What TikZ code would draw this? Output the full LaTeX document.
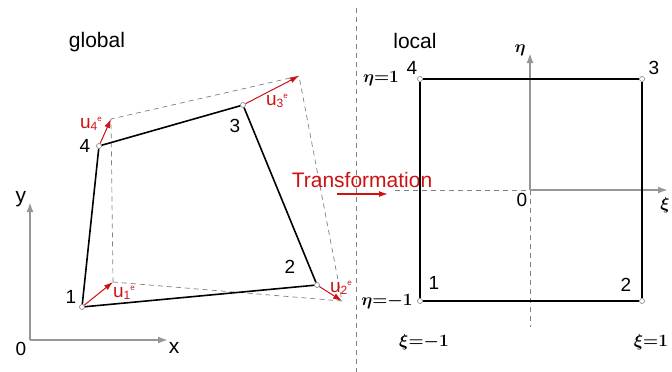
\documentclass[tikz,border=0pt]{standalone}
\usepackage{amsmath}
\usepackage{fontspec}
\setmainfont{Liberation Sans}
\usepackage{tikz}
\usetikzlibrary{arrows.meta,positioning}

\definecolor{dispred}{RGB}{204,18,18}
\definecolor{axisgray}{RGB}{150,150,150}
\newcommand{\dispu}[1]{u\raisebox{-2.5pt}{\fontsize{12}{12}\selectfont #1}\raisebox{7pt}{\fontsize{8}{8}\selectfont e}}

\begin{document}
\begin{tikzpicture}[x=1pt,y=-1pt,
  vtx/.style={circle,draw=gray,fill=white,inner sep=0pt,minimum size=5pt,line width=0.6pt},
  elem/.style={line width=1.6pt},
  axis/.style={draw=axisgray,line width=1.8pt,-{Latex[length=10pt,width=7pt]}},
  guide/.style={draw=gray,dash pattern=on 5pt off 4pt,line width=0.7pt},
  disp/.style={draw=dispred,line width=1pt,-{Latex[length=9pt,width=6pt]}},
  lbl/.style={font=\fontsize{19}{19}\selectfont,inner sep=0pt},
  txt/.style={font=\fontsize{21}{21}\selectfont,inner sep=0pt},
  ulbl/.style={text=dispred,font=\fontsize{19}{19}\selectfont,inner sep=0pt},
  nat/.style={font=\fontsize{16}{16}\selectfont\boldmath,inner sep=0pt}
]
\useasboundingbox (0,0) rectangle (672,372);

% global element
\node[txt] (glob) at (97,42) {global};
\coordinate (go) at (30,340);
\coordinate (gy) at (30,202);
\coordinate (gx) at (168,340);
\draw[axis] (go) -- (gy);
\draw[axis] (go) -- (gx);
\node[lbl] (g0) at (21,349) {0};
\node[txt] (gylab) at (21,199) {y};
\node[txt] (gxlab) at (174,348) {x};

\coordinate (t1) at (113,282);
\coordinate (t2) at (342,301);
\coordinate (t3) at (299,76);
\coordinate (t4) at (111,119);
\draw[guide] (t1) -- (t2) -- (t3) -- (t4) -- cycle;

\node[vtx] (n1) at (82,307) {};
\node[vtx] (n2) at (317,285) {};
\node[vtx] (n3) at (243,105) {};
\node[vtx] (n4) at (99,146) {};
\draw[elem] (n1) -- (n2) -- (n3) -- (n4) -- (n1);

\draw[disp] (n1) -- (t1);
\draw[disp] (n2) -- (t2);
\draw[disp] (n3) -- (t3);
\draw[disp] (n4) -- (t4);

\node[lbl] (n1lab) at (71,297) {1};
\node[lbl] (n2lab) at (290,267) {2};
\node[lbl] (n3lab) at (235,126) {3};
\node[lbl] (n4lab) at (85,146) {4};
\node[ulbl] (u1) at (124,293) {\dispu{1}};
\node[ulbl] (u2) at (341,288) {\dispu{2}};
\node[ulbl] (u3) at (277,101) {\dispu{3}};
\node[ulbl] (u4) at (91,124) {\dispu{4}};

% divider and transformation
\coordinate (divtop) at (356,8);
\coordinate (divbot) at (356,372);
\draw[guide] (divtop) -- (divbot);
\node[txt,text=dispred] (trans) at (362,180) {Transformation};
\coordinate (tfrom) at (337,194);
\coordinate (tto) at (388,194);
\draw[disp,line width=1.4pt] (tfrom) -- (tto);

% local element
\node[txt] (loc) at (415,41) {local};
\coordinate (lo) at (530,190);
\coordinate (leta) at (530,53);
\coordinate (lxi) at (668,190);
\coordinate (lh) at (395,190);
\coordinate (lv) at (530,327);
\draw[guide] (lh) -- (lo);
\draw[guide] (lo) -- (lv);
\draw[axis] (lo) -- (leta);
\draw[axis] (lo) -- (lxi);

\node[vtx] (l1) at (420,301) {};
\node[vtx] (l2) at (642,301) {};
\node[vtx] (l3) at (642,79) {};
\node[vtx] (l4) at (420,79) {};
\draw[elem,line width=2pt] (l1) -- (l2) -- (l3) -- (l4) -- (l1);

\node[lbl] (l1lab) at (434,283) {1};
\node[lbl] (l2lab) at (626,285) {2};
\node[lbl] (l3lab) at (654,68) {3};
\node[lbl] (l4lab) at (412,68) {4};
\node[lbl] (l0) at (522,200) {0};
\node[nat] (etalab) at (520,50) {$\eta$};
\node[nat] (xilab) at (665,205) {$\xi$};
\node[nat] (etatop) at (381,79) {$\eta{=}1$};
\node[nat] (etabot) at (387,302) {$\eta{=}{-}1$};
\node[nat] (xileft) at (424,342) {$\xi{=}{-}1$};
\node[nat] (xiright) at (651,342) {$\xi{=}1$};
\end{tikzpicture}
\end{document}
